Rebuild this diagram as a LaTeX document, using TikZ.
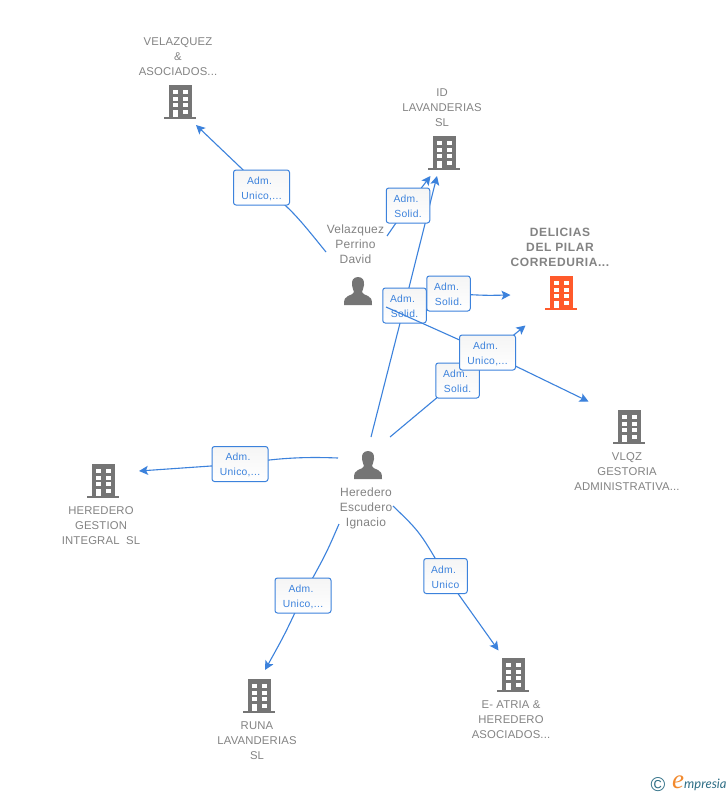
\documentclass[tikz,border=0pt]{standalone}
\usepackage{fontspec}
\setmainfont{Liberation Sans}
\newfontfamily\logofont{Liberation Serif}
\newfontfamily\logosans{Lato}
\usetikzlibrary{arrows.meta}
\definecolor{linkblue}{HTML}{3C82DC}
\definecolor{icongray}{HTML}{757575}
\definecolor{textgray}{HTML}{838383}
\definecolor{hotorange}{HTML}{FF5A2B}
\definecolor{logoteal}{HTML}{2F6F86}
\definecolor{logoorange}{HTML}{F28A2E}
\newcommand{\roletext}[1]{\raisebox{-3.6pt}[0pt][0pt]{\makebox[0pt]{\parbox{54pt}{\centering \makebox[0pt]{\hspace*{-4pt}Adm.}\\#1}}}}
\tikzset{
  conn/.style={draw=linkblue,line width=1.1pt,-{Stealth[length=9pt,width=9pt,inset=2pt]}},
  plainconn/.style={draw=linkblue,line width=1.1pt},
  rolebox/.style={draw=linkblue,line width=1pt,rounded corners=2.5pt,top color=white!96!black,bottom color=white,
    minimum height=35pt,inner sep=0pt,text=linkblue,font=\addfontfeatures{LetterSpace=3}\fontsize{10.3}{15}\selectfont},
  wide/.style={minimum width=56pt},
  narrow/.style={minimum width=43.5pt},
  nametext/.style={align=center,text=textgray,font=\addfontfeatures{LetterSpace=1.5}\fontsize{11.3}{15}\selectfont,inner sep=0pt},
  persontext/.style={align=center,text=textgray,font=\addfontfeatures{LetterSpace=2}\fontsize{12}{15}\selectfont,inner sep=0pt},
  hottext/.style={align=center,text=textgray,font=\bfseries\addfontfeatures{LetterSpace=5}\fontsize{12}{15}\selectfont,inner sep=0pt},
  iconbox/.style={minimum width=32pt,minimum height=34pt,inner sep=0pt},
  pics/bldg/.style={code={
    \fill[#1] (-11.5,-17) rectangle (11.5,14.5);
    \fill[#1] (-16,14.5) rectangle (16,17);
    \foreach \yy in {-12,-5.3,1}{
      \fill[white] (-7.5,\yy) rectangle (-2.5,\yy+4);
      \fill[white] (2.5,\yy) rectangle (7.5,\yy+4);
    }
    \fill[white] (-7.5,8) rectangle (-2.5,14.5);
    \fill[white] (2.5,7.5) rectangle (7.5,11.5);
  }},
  pics/persona/.style={code={
    \fill[icongray] (0,-14) .. controls (-5,-14) and (-6.5,-10) .. (-6,-6)
      .. controls (-5.6,-2.5) and (-4.5,-1) .. (-4,1)
      .. controls (-4,3) and (-7,3.5) .. (-10,5)
      .. controls (-13,6.2) and (-14,8) .. (-14,14) -- (14,14)
      .. controls (14,8) and (13,6.2) .. (10,5)
      .. controls (7,3.5) and (4,3) .. (4,1)
      .. controls (4.5,-1) and (5.6,-2.5) .. (6,-6)
      .. controls (6.5,-10) and (5,-14) .. (0,-14) -- cycle;
  }}
}
\begin{document}
\begin{tikzpicture}[x=1pt,y=-1pt]
\useasboundingbox (0,0) rectangle (728,795);
\fill[white] (0,0) rectangle (728,795);
% icons
\node[iconbox] (bVel) at (180,102) {}; \pic at (bVel) {bldg=icongray};
\node[iconbox] (bId) at (444,153) {}; \pic at (bId) {bldg=icongray};
\node[iconbox] (bDel) at (561,293) {}; \pic at (bDel) {bldg=hotorange};
\node[iconbox] (bVlqz) at (629,427) {}; \pic at (bVlqz) {bldg=icongray};
\node[iconbox] (bHer) at (103,481) {}; \pic at (bHer) {bldg=icongray};
\node[iconbox] (bRuna) at (259,696) {}; \pic at (bRuna) {bldg=icongray};
\node[iconbox] (bAtria) at (513,675) {}; \pic at (bAtria) {bldg=icongray};
\node[iconbox] (pVel) at (358,291) {}; \pic at (pVel) {persona};
\node[iconbox] (pHer) at (368,465) {}; \pic at (pHer) {persona};
% names
\node[nametext] (tVel) at (178,56.5) {VELAZQUEZ\\\&\\ASOCIADOS...};
\node[nametext] (tId) at (442,107.5) {ID\\LAVANDERIAS\\SL};
\node[hottext] (tDel) at (560,247.5) {DELICIAS\\DEL PILAR\\CORREDURIA...};
\node[nametext] (tVlqz) at (627,471.5) {VLQZ\\GESTORIA\\ADMINISTRATIVA...};
\node[nametext] (tHer) at (101,525.5) {HEREDERO\\GESTION\\INTEGRAL~~SL};
\node[nametext] (tRuna) at (257,740.5) {RUNA\\LAVANDERIAS\\SL};
\node[nametext] (tAtria) at (511,719.5) {E- ATRIA \&\\HEREDERO\\ASOCIADOS...};
\node[persontext] (tPv) at (355.5,244) {Velazquez\\Perrino\\David};
\node[persontext] (tPh) at (366,508.5) {Heredero\\Escudero\\Ignacio};
% connector ends
\coordinate (s1) at (326,252); \coordinate (e1) at (196,125);
\coordinate (s2) at (387,236); \coordinate (e2) at (430.5,176);
\coordinate (s3) at (371,437); \coordinate (e3) at (437,176);
\coordinate (s4) at (410,292); \coordinate (e4) at (510.5,295);
\coordinate (s5) at (386,307); \coordinate (e5) at (588.5,401.5);
\coordinate (s6) at (390,437); \coordinate (e6) at (525.5,325.5);
\coordinate (s7) at (338,458); \coordinate (e7) at (139,471);
\coordinate (s8) at (339,524); \coordinate (e8) at (265,670);
\coordinate (s9) at (393,506); \coordinate (e9) at (498.5,650.5);
% label positions, declared first for connectors
\coordinate (c1) at (261.5,187.5);
\coordinate (c2) at (408,205.5);
\coordinate (c3) at (404.5,305.5);
\coordinate (c4) at (448.5,293.5);
\coordinate (c5) at (487.5,352.5);
\coordinate (c6) at (457.5,380.5);
\coordinate (c7) at (240,464);
\coordinate (c8) at (303,595.5);
\coordinate (c9) at (445.5,576);
% connectors under boxes
\draw[plainconn] (s1) .. controls (300,220) and (288,204) .. (c1);
\draw[conn] (c1) -- (e1);
\draw[plainconn] (s2) -- (c2);
\draw[conn] (c2) -- (e2);
\draw[plainconn] (s3) -- (c3);
\draw[conn] (c3) -- (e3);
\draw[plainconn] (s4) -- (c4);
\draw[conn] (c4) .. controls (485,295.5) .. (e4);
\draw[plainconn] (s6) -- (c6);
\draw[conn] (c6) -- (e6);
\draw[plainconn] (s7) .. controls (300,456.5) and (275,458.5) .. (c7);
\draw[conn] (c7) -- (e7);
\draw[plainconn] (s8) .. controls (326,554) .. (c8);
\draw[conn] (c8) .. controls (285,634) .. (e8);
\draw[plainconn] (s9) .. controls (420,532) .. (c9);
\draw[conn] (c9) -- (e9);
% first boxes
\node[rolebox,wide] (l1) at (c1) {\roletext{Unico,...}};
\node[rolebox,narrow] (l2) at (c2) {\roletext{Solid.}};
\node[rolebox,narrow] (l3) at (c3) {\roletext{Solid.}};
% this connector runs over the box beside it
\draw[plainconn] (s5) -- (c5);
\draw[conn] (c5) -- (e5);
\node[rolebox,narrow] (l4) at (c4) {\roletext{Solid.}};
\node[rolebox,narrow] (l6) at (c6) {\roletext{Solid.}};
\node[rolebox,wide] (l5) at (c5) {\roletext{Unico,...}};
\node[rolebox,wide] (l7) at (c7) {\roletext{Unico,...}};
\node[rolebox,wide] (l8) at (c8) {\roletext{Unico,...}};
\node[rolebox,narrow] (l9) at (c9) {\roletext{Unico}};
% logo
\node[inner sep=0pt,text=logoteal,font=\fontsize{20}{20}\selectfont] (logoC) at (658,784.5) {©};
\node[inner sep=0pt,text=logoorange,font=\logofont\itshape\fontsize{27}{27}\selectfont] (logoE) at (678,782) {e};
\node[inner sep=0pt,anchor=base west,text=logoteal,font=\logosans\itshape\fontsize{13}{14}\selectfont] (logoT) at (684,788.5) {mpresia};
\end{tikzpicture}
\end{document}
